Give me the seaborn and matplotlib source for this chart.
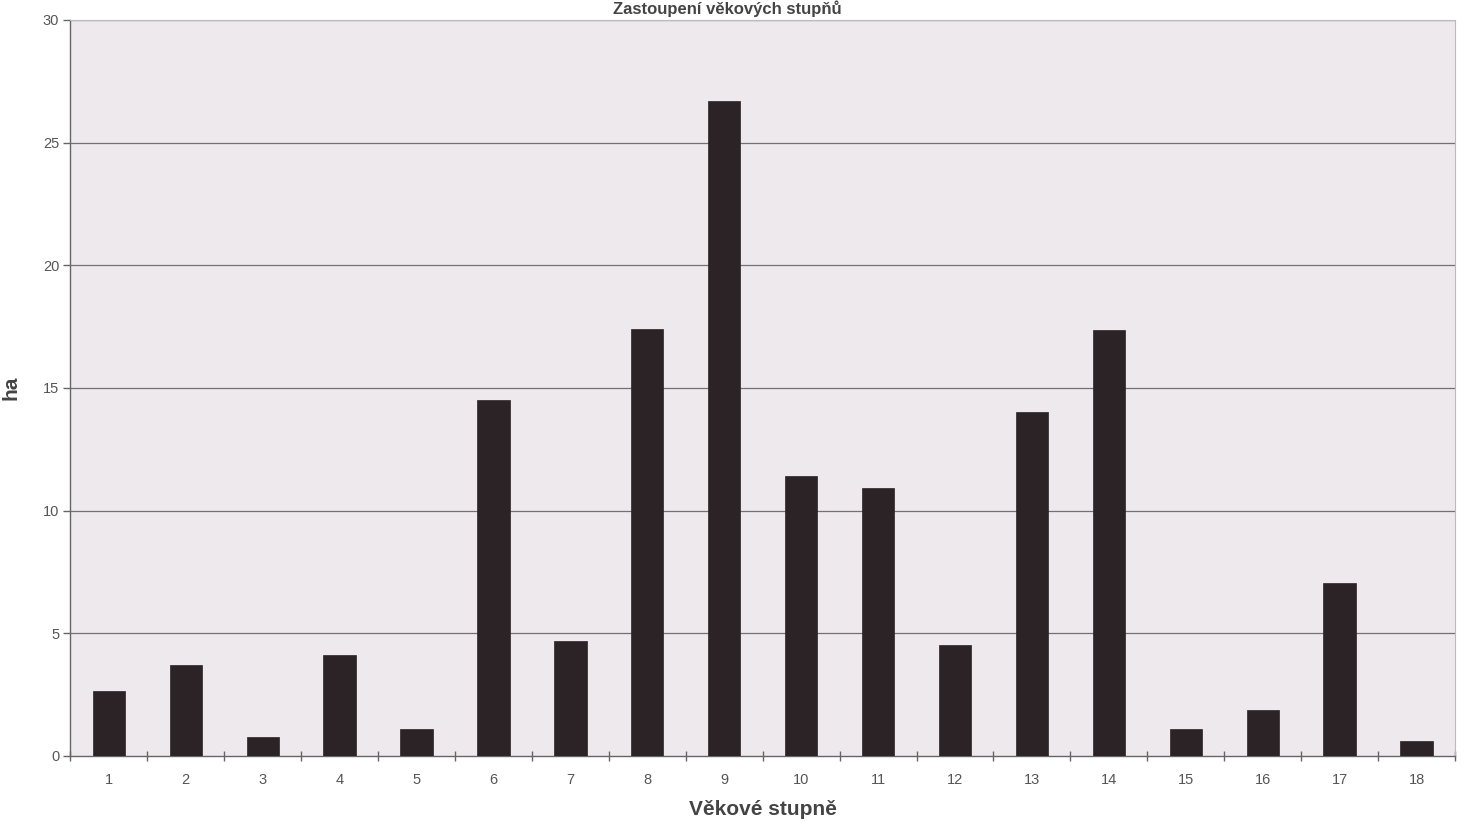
import numpy as np
import pandas as pd
import seaborn as sns
import matplotlib.pyplot as plt
from matplotlib.ticker import FixedLocator

# plochy vekovych stupnu (ha)
stupne = [str(i) for i in range(1, 19)]
plochy = [2.65, 3.7, 0.76, 4.1, 1.1, 14.5, 4.7, 17.4, 26.7,
          11.4, 10.9, 4.5, 14.0, 17.35, 1.1, 1.85, 7.05, 0.6]
y_ticks = [0, 5, 10, 15, 20, 25, 30]

df = pd.DataFrame({"Věkové stupně": stupne, "ha": plochy})

sns.set_style("white")
plt.rcParams['font.family'] = ['Liberation Sans', 'DejaVu Sans']

fig = plt.figure(figsize=(14.66, 8.27), dpi=100)
ax = fig.add_axes([0.048, 0.086, 0.9445, 0.89])
ax.set_facecolor("#eee9ec")

sns.barplot(data=df, x="Věkové stupně", y="ha", color="#2b2325",
            width=0.42, saturation=1, edgecolor="#2b2325", linewidth=0.5,
            ax=ax, zorder=3)

ax.set_xlim(-0.5, 17.5)
ax.set_ylim(0, 30)
ax.set_yticks(y_ticks)
for v in y_ticks[1:]:
    ax.axhline(v, color="#757173", lw=0.9, zorder=1)

# excel styl - carky mezi kategoriemi
ax.xaxis.set_minor_locator(FixedLocator(np.arange(-0.5, 18, 1)))
ax.tick_params(axis="x", which="major", bottom=True, length=0, pad=12,
               labelsize=10.5, labelcolor="#555555")
ax.tick_params(axis="x", which="minor", bottom=True, length=7, width=1,
               color="#666666", direction="inout")
ax.tick_params(axis="y", left=True, length=5, width=1, color="#666666",
               labelsize=10.5, labelcolor="#555555", pad=3)

for s in ["left", "bottom"]:
    ax.spines[s].set_color("#666666")
    ax.spines[s].set_linewidth(1.0)
for s in ["top", "right"]:
    ax.spines[s].set_color("#bbbbbb")
    ax.spines[s].set_linewidth(0.8)

ax.set_xlabel("Věkové stupně", fontsize=15, fontweight="bold", color="#444444", labelpad=10)
ax.set_ylabel("ha", fontsize=15, fontweight="bold", color="#444444", labelpad=16)

fig.text(0.496, 0.999, "Zastoupení věkových stupňů", ha="center", va="top",
         fontsize=12, fontweight="bold", color="#444444")

fig.savefig("out.png", dpi=100, facecolor="white")
